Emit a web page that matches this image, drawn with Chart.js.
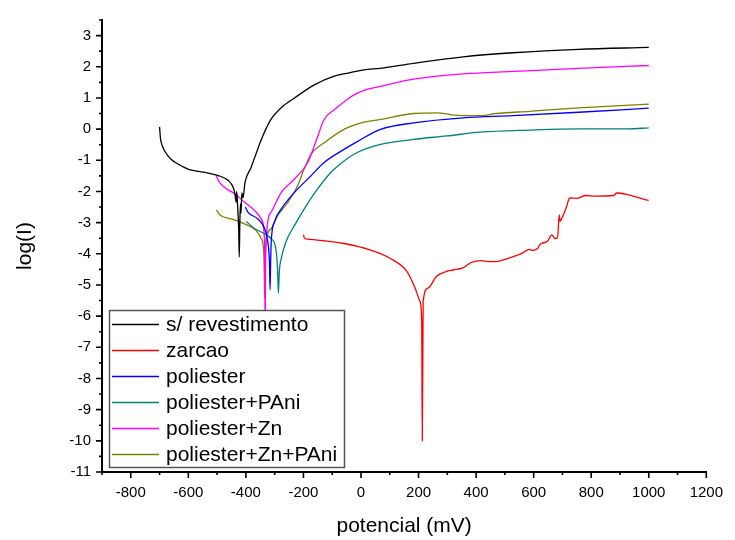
<!DOCTYPE html>
<html>
<head>
<meta charset="utf-8">
<script src="https://cdn.jsdelivr.net/npm/chart.js@4.4.0/dist/chart.umd.min.js"></script>
<style>
  html, body { margin: 0; padding: 0; background: #fff; }
  canvas { display: block; }
</style>
</head>
<body>
<canvas id="chart" width="735" height="540"></canvas>
<script>
// Polarisation curves: potential (mV) against log(I).
const semRevMv  = [-700, -697, -690, -679, -662, -645, -620, -599, -570, -541, -496, -461, -444, -438, -434, -432, -428, -425, -423, -421, -419, -417, -414, -410, -403, -382, -365, -348, -313, -278, -231, -162, -93, -37, 10, 67, 183, 355, 528, 756, 1000];
const semRevLog = [0.07, -0.28, -0.55, -0.75, -0.95, -1.07, -1.2, -1.29, -1.35, -1.39, -1.49, -1.65, -1.87, -2.08, -2.35, -2.0, -2.6, -3.2, -4.1, -3.0, -2.4, -2.7, -2.05, -2.2, -1.71, -1.23, -0.8, -0.37, 0.31, 0.68, 1.0, 1.42, 1.70, 1.81, 1.90, 1.95, 2.11, 2.32, 2.45, 2.56, 2.62];

const zarcaoMv  = [-200, -197, -185, -151, -59, 33, 102, 160, 188, 205, 211, 213, 216, 233, 262, 296, 320, 354, 383, 418, 441, 470, 504, 539, 562, 585, 596, 614, 622, 648, 663, 675, 683, 689, 692, 700, 714, 725, 752, 780, 815, 878, 889, 929, 1000];
const zarcaoLog = [-3.39, -3.49, -3.53, -3.56, -3.67, -3.88, -4.15, -4.57, -5.10, -5.53, -6.16, -10.0, -5.53, -5.10, -4.73, -4.57, -4.52, -4.45, -4.28, -4.22, -4.25, -4.25, -4.17, -4.06, -3.97, -3.86, -3.89, -3.83, -3.70, -3.60, -3.39, -3.51, -3.49, -2.75, -2.96, -2.82, -2.50, -2.21, -2.22, -2.13, -2.15, -2.13, -2.05, -2.11, -2.29];

const poliesterMv  = [-402, -393, -359, -335, -324, -318, -316, -314, -312, -301, -277, -231, -174, -128, -59, -13, 68, 183, 355, 528, 757, 1000];
const poliesterLog = [-2.50, -2.66, -2.88, -3.19, -3.62, -4.3, -5.15, -4.3, -3.62, -2.98, -2.56, -2.03, -1.50, -1.07, -0.65, -0.40, -0.01, 0.20, 0.36, 0.43, 0.54, 0.67];

const pAniMv  = [-399, -370, -336, -313, -296, -290, -287, -284, -277, -261, -231, -197, -151, -105, -59, -13, 68, 183, 298, 413, 585, 757, 930, 1000];
const pAniLog = [-2.96, -3.19, -3.35, -3.51, -3.83, -4.5, -5.26, -4.6, -4.15, -3.62, -3.09, -2.56, -1.92, -1.39, -1.02, -0.75, -0.49, -0.33, -0.22, -0.10, -0.03, 0.01, 0.01, 0.04];

const znMv  = [-502, -496, -473, -438, -404, -370, -347, -337, -335, -334, -333, -332, -330, -312, -277, -231, -185, -156, -128, -93, -47, -24, 16, 68, 183, 355, 528, 757, 1000];
const znLog = [-1.50, -1.65, -1.87, -2.08, -2.35, -2.61, -2.88, -3.30, -3.94, -5.0, -6.5, -5.0, -3.62, -2.66, -2.03, -1.60, -1.07, -0.38, 0.31, 0.62, 0.96, 1.10, 1.26, 1.37, 1.60, 1.77, 1.85, 1.95, 2.04];

const znPAniMv  = [-502, -491, -451, -405, -365, -347, -338, -336, -335, -334, -330, -312, -289, -254, -220, -198, -174, -128, -59, 10, 68, 183, 263, 298, 321, 413, 470, 585, 757, 1000];
const znPAniLog = [-2.59, -2.75, -2.88, -3.04, -3.25, -3.51, -3.94, -4.7, -5.42, -4.7, -3.62, -3.19, -2.77, -2.35, -1.81, -1.29, -0.81, -0.44, -0.01, 0.22, 0.31, 0.50, 0.52, 0.49, 0.45, 0.43, 0.50, 0.57, 0.68, 0.80];

const seriesNames = ['s/ revestimento', 'zarcao', 'poliester', 'poliester+PAni', 'poliester+Zn', 'poliester+Zn+PAni'];
const seriesColors = ['#000000', '#ff0000', '#0000ff', '#008080', '#ff00ff', '#808000'];
const seriesMv = [semRevMv, zarcaoMv, poliesterMv, pAniMv, znMv, znPAniMv];
const seriesLog = [semRevLog, zarcaoLog, poliesterLog, pAniLog, znLog, znPAniLog];

const FONT = '"Liberation Sans", Arial, sans-serif';
Chart.defaults.font.family = FONT;
Chart.defaults.color = '#000';

const toPoints = (xs, ys) => xs.map((x, i) => ({ x, y: ys[i] }));

// Origin-style outward ticks: long on labelled values, short in between.
const axisTicks = {
    id: 'axisTicks',
    afterDraw(chart) {
        const { ctx, chartArea, scales: { x, y } } = chart;
        ctx.save();
        ctx.strokeStyle = '#000';
        ctx.lineWidth = 1.6;
        ctx.beginPath();
        for (const t of x.ticks) {
            const px = x.getPixelForValue(t.value);
            const len = t.value % 200 === 0 ? 6 : 3;
            ctx.moveTo(px, chartArea.bottom);
            ctx.lineTo(px, chartArea.bottom + len);
        }
        for (const t of y.ticks) {
            const py = y.getPixelForValue(t.value);
            const len = Number.isInteger(t.value) ? 6 : 3;
            ctx.moveTo(chartArea.left, py);
            ctx.lineTo(chartArea.left - len, py);
        }
        ctx.stroke();
        ctx.restore();
    },
};

// Boxed legend sitting on top of the curves, bottom-left of the plot.
const boxLegend = {
    id: 'boxLegend',
    afterDraw(chart) {
        const { ctx } = chart;
        const box = { x: 109.5, y: 310.5, w: 235, h: 157 };
        ctx.save();
        ctx.fillStyle = '#fff';
        ctx.fillRect(box.x, box.y, box.w, box.h);
        ctx.strokeStyle = '#555';
        ctx.lineWidth = 1.5;
        ctx.strokeRect(box.x, box.y, box.w, box.h);
        ctx.font = `21px ${FONT}`;
        ctx.textBaseline = 'middle';
        chart.data.datasets.forEach((ds, i) => {
            const cy = box.y + 14 + i * 26;
            ctx.strokeStyle = ds.borderColor;
            ctx.lineWidth = 1.3;
            ctx.beginPath();
            ctx.moveTo(112, cy);
            ctx.lineTo(159, cy);
            ctx.stroke();
            ctx.fillStyle = '#000';
            ctx.fillText(ds.label, 166, cy + 1);
        });
        ctx.restore();
    },
};

new Chart(document.getElementById('chart'), {
    type: 'scatter',
    data: {
        datasets: seriesNames.map((name, i) => ({
            label: name,
            data: toPoints(seriesMv[i], seriesLog[i]),
            showLine: true,
            borderColor: seriesColors[i],
            borderWidth: 1.3,
            pointRadius: 0,
            cubicInterpolationMode: 'monotone',
        })),
    },
    options: {
        responsive: false,
        animation: false,
        devicePixelRatio: 1,
        layout: { padding: { top: 16, right: 22, left: 0, bottom: 0 } },
        plugins: {
            legend: { display: false },
            tooltip: { enabled: false },
        },
        scales: {
            x: {
                type: 'linear',
                min: -900,
                max: 1200,
                grid: { display: false, drawTicks: false },
                border: { display: true, color: '#000', width: 2 },
                ticks: {
                    stepSize: 100,
                    autoSkip: false,
                    maxRotation: 0,
                    padding: 12,
                    font: { size: 15 },
                    callback: (v) => (v % 200 === 0 ? v : ''),
                },
                title: {
                    display: true,
                    text: 'potencial (mV)',
                    font: { size: 21 },
                    padding: { top: 0, bottom: 1 },
                },
                afterFit: (scale) => { scale.height = 68; },
            },
            y: {
                min: -11,
                max: 3.5,
                grid: { display: false, drawTicks: false },
                border: { display: true, color: '#000', width: 2 },
                ticks: {
                    stepSize: 0.5,
                    autoSkip: false,
                    padding: 11,
                    font: { size: 15 },
                    callback: (v) => (Number.isInteger(v) ? v : ''),
                },
                title: {
                    display: true,
                    text: 'log(I)',
                    font: { size: 21 },
                    padding: { top: 13, bottom: 0 },
                },
                afterFit: (scale) => { scale.width = 102; },
            },
        },
    },
    plugins: [axisTicks, boxLegend],
});
</script>
</body>
</html>
